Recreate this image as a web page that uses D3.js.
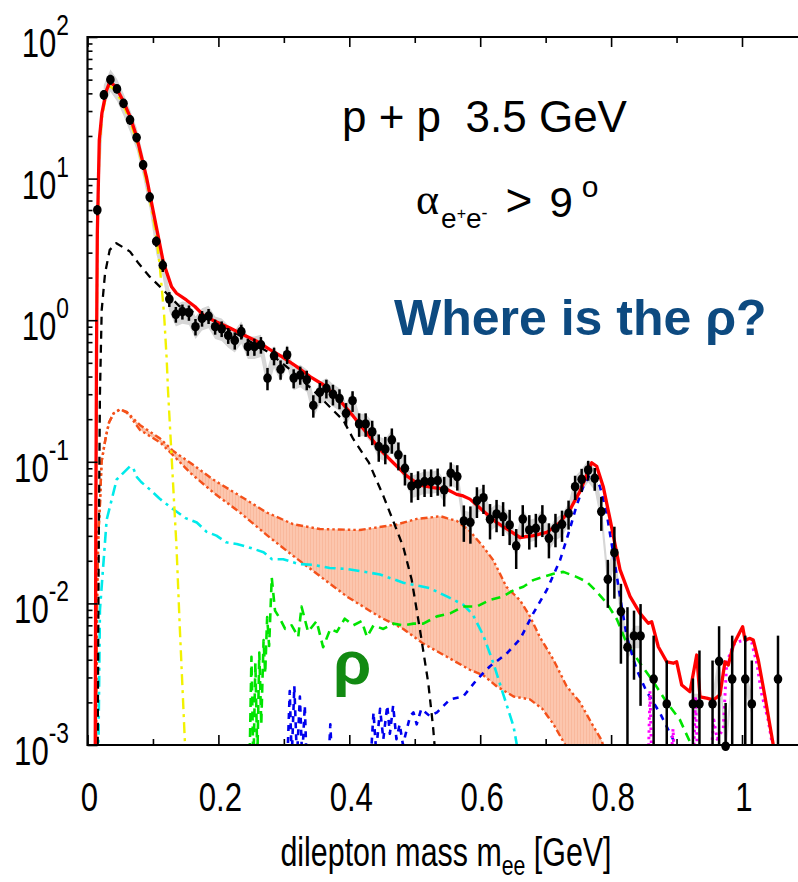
<!DOCTYPE html>
<html>
<head>
<meta charset="utf-8">
<script src="https://cdn.jsdelivr.net/npm/d3@7"></script>
<style>
  body { margin: 0; background: #fff; }
  svg { display: block; }
  text { font-family: "Liberation Sans", Arial, Helvetica, sans-serif; }
</style>
</head>
<body>
<svg id="chart" width="798" height="882"></svg>
<script>
// ---------------- measured e+e- yield ----------------
const massBins = [0.015,0.025,0.035,0.045,0.055,0.065,0.075,0.085,0.095,0.105,
  0.115,0.125,0.135,0.145,0.155,0.165,0.175,0.185,0.195,0.205,
  0.215,0.225,0.235,0.245,0.255,0.265,0.275,0.285,0.295,0.305,
  0.315,0.325,0.335,0.345,0.355,0.365,0.375,0.385,0.395,0.405,
  0.415,0.425,0.435,0.445,0.455,0.465,0.475,0.485,0.495,0.505,
  0.515,0.525,0.535,0.545,0.555,0.565,0.575,0.585,0.595,0.605,
  0.615,0.625,0.635,0.645,0.655,0.665,0.675,0.685,0.695,0.705,
  0.715,0.725,0.735,0.745,0.755,0.765,0.775,0.785,0.795,0.805,
  0.815,0.825,0.835,0.845,0.865,0.885,0.925,0.935,0.955,0.965,
  0.975,0.985,1.005,1.015,1.055];
const yields = [6.0,39,50,43,34,26,19.5,12.5,7.4,3.6,
  2.44,1.41,1.10,1.15,1.13,0.90,1.03,1.07,0.90,0.87,
  0.78,0.72,0.83,0.65,0.65,0.67,0.39,0.56,0.45,0.57,
  0.39,0.41,0.38,0.25,0.31,0.33,0.30,0.28,0.22,0.27,
  0.185,0.185,0.163,0.128,0.123,0.143,0.112,0.090,0.0675,0.0697,
  0.0724,0.0724,0.0736,0.0633,0.083,0.0786,0.0382,0.0374,0.0531,0.0558,
  0.0393,0.0428,0.0409,0.0358,0.0255,0.0394,0.033,0.0339,0.0394,0.0288,
  0.0339,0.0362,0.0432,0.0667,0.0752,0.0875,0.0764,0.0445,0.0148,0.0228,
  0.00875,0.0049,0.00589,0.00589,0.00292,0.00195,0.00195,0.00195,0.00195,0.0039,
  0.00098,0.00292,0.00292,0.00195,0.00292];
const yieldErr = [0.5,3,4,3,2.5,2,1.5,1.0,0.6,0.3,
  0.25,0.17,0.14,0.14,0.14,0.12,0.13,0.13,0.11,0.11,
  0.10,0.10,0.10,0.09,0.09,0.09,0.07,0.08,0.07,0.08,
  0.06,0.06,0.06,0.045,0.05,0.05,0.05,0.045,0.04,0.045,
  0.035,0.035,0.032,0.028,0.027,0.029,0.025,0.022,0.016,0.016,
  0.016,0.016,0.016,0.015,0.016,0.016,0.011,0.011,0.013,0.013,
  0.011,0.011,0.011,0.010,0.008,0.010,0.009,0.009,0.010,0.008,
  0.009,0.009,0.010,0.013,0.014,0.014,0.014,0.012,0.0055,0.012,
  0.005,0.0045,0.003,0.004,0.003,0.002,0.001,0.0027,0.002,0.003,
  0.001,0.003,0.003,0.002,0.003];
// relative systematic uncertainty shown as the grey band
const sysRel = 0.18;

// ---------------- model contributions: [mass GeV, yield] ----------------
const totalCurve = [[0.0118,0.0008],[0.0128,0.05],[0.0138,0.6],[0.015,4.1],[0.018,18.7],[0.022,29],
  [0.029,42],[0.034,48],[0.040,46],[0.045,43],[0.055,35],[0.065,27.4],[0.075,19.8],[0.090,10.3],
  [0.105,4.6],[0.116,2.55],[0.1285,1.72],[0.136,1.55],[0.151,1.39],[0.164,1.25],[0.1795,1.06],
  [0.1974,0.97],[0.2177,0.88],[0.238,0.79],[0.2585,0.71],[0.2788,0.62],[0.2992,0.545],[0.3196,0.47],
  [0.340,0.40],[0.3603,0.35],[0.383,0.28],[0.406,0.21],[0.4266,0.16],[0.4469,0.122],[0.4672,0.0985],
  [0.4877,0.0795],[0.508,0.0683],[0.5283,0.0657],[0.5488,0.0639],[0.564,0.0589],[0.574,0.0574],
  [0.5844,0.0545],[0.6047,0.045],[0.625,0.0373],[0.6455,0.0325],[0.6608,0.0292],[0.6811,0.0301],
  [0.7016,0.0317],[0.7219,0.0373],[0.7372,0.046],[0.7525,0.0618],[0.7627,0.081],[0.7704,0.0985],
  [0.778,0.093],[0.788,0.0667],[0.7983,0.0395],[0.8136,0.0173],[0.8289,0.0112],[0.8442,0.0085],
  [0.8568,0.00724],[0.862,0.00743],[0.8721,0.00494],[0.885,0.00387],[0.895,0.00378],[0.9002,0.00387],
  [0.9079,0.00265],[0.9205,0.00238],[0.9308,0.00432],[0.9358,0.00219],[0.946,0.00214],[0.9562,0.00208],
  [0.9664,0.00226],[0.974,0.00387],[0.979,0.00367],[0.9867,0.00508],[0.997,0.0063],[1.001,0.00685],
  [1.0046,0.00551],[1.0122,0.00566],[1.0173,0.00551],[1.0249,0.00398],[1.0351,0.00219],[1.0478,0.001],
  [1.05,0.0007]];
const pi0Dalitz = [[0.0118,0.0008],[0.0128,0.05],[0.0138,0.5],[0.015,3.5],[0.018,16],[0.022,27],
  [0.029,40],[0.034,45],[0.040,43],[0.045,40],[0.055,33],[0.065,25.5],[0.075,18.5],[0.090,9.6],
  [0.105,4.0],[0.111,2.26],[0.117,1.1],[0.121,0.53],[0.123,0.32],[0.1285,0.109],[0.136,0.025],
  [0.141,0.0068],[0.149,0.001],[0.151,0.0007]];
const etaDalitz = [[0.0155,0.0008],[0.017,0.02],[0.019,0.3],[0.0217,1.18],[0.0268,2.14],[0.034,3.14],
  [0.044,3.5],[0.065,3.05],[0.078,2.52],[0.095,2.03],[0.111,1.72],[0.140,1.26],[0.172,1.09],
  [0.182,1.06],[0.243,0.73],[0.275,0.60],[0.309,0.45],[0.345,0.32],[0.373,0.237],[0.391,0.196],
  [0.406,0.145],[0.430,0.0985],[0.452,0.0574],[0.4725,0.033],[0.4825,0.025],[0.4953,0.0147],
  [0.508,0.0065],[0.5207,0.00273],[0.528,0.00134],[0.532,0.0008]];
const deltaDalitz = [[0.0165,0.0008],[0.019,0.009],[0.0293,0.039],[0.0446,0.075],[0.065,0.093],
  [0.070,0.09],[0.0755,0.078],[0.082,0.072],[0.0955,0.0636],[0.110,0.055],[0.131,0.0462],[0.150,0.040],
  [0.167,0.0373],[0.182,0.032],[0.197,0.0301],[0.212,0.027],[0.228,0.0263],[0.245,0.025],[0.269,0.023],
  [0.282,0.0205],[0.299,0.0205],[0.322,0.019],[0.345,0.0187],[0.370,0.0178],[0.396,0.0175],
  [0.427,0.0166],[0.447,0.016],[0.4825,0.014],[0.523,0.0128],[0.549,0.0112],[0.574,0.0098],
  [0.589,0.0083],[0.605,0.0059],[0.620,0.0038],[0.635,0.0023],[0.651,0.00135],[0.656,0.001],[0.658,0.0008]];
const rhoUpper = [[0.0128,0.0008],[0.0145,0.01],[0.0165,0.03],[0.019,0.05],[0.0215,0.1],[0.028,0.15],
  [0.033,0.19],[0.040,0.22],[0.050,0.235],[0.060,0.225],[0.080,0.182],[0.111,0.146],[0.131,0.119],
  [0.157,0.0985],[0.192,0.0749],[0.233,0.0574],[0.274,0.0438],[0.314,0.0363],[0.355,0.0335],
  [0.416,0.033],[0.4725,0.0361],[0.503,0.0395],[0.525,0.0405],[0.539,0.0413],[0.549,0.040],
  [0.564,0.0383],[0.584,0.0325],[0.605,0.025],[0.620,0.0202],[0.640,0.0131],[0.661,0.0105],
  [0.676,0.0081],[0.691,0.0058],[0.712,0.004],[0.732,0.0026],[0.7525,0.002],[0.770,0.00143],
  [0.786,0.00107],[0.792,0.0008]];
const rhoLower = [[0.0128,0.0008],[0.0145,0.01],[0.0165,0.03],[0.019,0.05],[0.0215,0.1],[0.028,0.15],
  [0.033,0.19],[0.040,0.22],[0.050,0.235],[0.060,0.222],[0.065,0.21],[0.080,0.168],[0.111,0.137],
  [0.131,0.111],[0.157,0.0835],[0.193,0.0603],[0.233,0.0438],[0.275,0.0301],[0.314,0.0217],
  [0.355,0.0156],[0.396,0.0112],[0.447,0.008],[0.4825,0.0066],[0.513,0.0052],[0.549,0.0042],
  [0.584,0.0034],[0.605,0.0031],[0.625,0.0026],[0.651,0.0022],[0.676,0.0021],[0.695,0.0018],
  [0.712,0.0014],[0.730,0.001],[0.735,0.0008]];
const rhoNN = [[0.2475,0.0007],[0.2505,0.0042],[0.2535,0.0007],[0.2565,0.0038],[0.2595,0.0008],
  [0.2625,0.0045],[0.2655,0.0014],[0.269,0.0055],[0.2715,0.0032],[0.2745,0.008],[0.2775,0.005],
  [0.2815,0.0152],[0.2865,0.0089],[0.294,0.0078],[0.302,0.0066],[0.312,0.0070],[0.322,0.0058],
  [0.327,0.0095],[0.337,0.0063],[0.350,0.0075],[0.360,0.0049],[0.371,0.0066],[0.381,0.0063],
  [0.393,0.0078],[0.406,0.0070],[0.419,0.0075],[0.427,0.0058],[0.437,0.0070],[0.452,0.0066],
  [0.467,0.0072],[0.4825,0.0070],[0.498,0.0072],[0.513,0.0072],[0.534,0.0081],[0.554,0.0085],
  [0.574,0.0095],[0.595,0.0095],[0.615,0.0106],[0.635,0.0112],[0.651,0.0124],[0.666,0.0131],
  [0.681,0.0146],[0.696,0.0154],[0.712,0.0162],[0.727,0.0167],[0.747,0.0154],[0.763,0.0142],
  [0.778,0.0121],[0.793,0.0101],[0.809,0.0077],[0.824,0.0052],[0.844,0.0038],[0.8645,0.0028],
  [0.885,0.0020],[0.905,0.00151],[0.9205,0.00105],[0.925,0.0008]];
const omegaCurve = [[0.305,0.0007],[0.309,0.0024],[0.312,0.0008],[0.316,0.0026],[0.320,0.0008],
  [0.3245,0.0022],[0.328,0.0008],[0.332,0.0019],[0.335,0.0007],[0.368,0.0007],[0.371,0.0014],
  [0.374,0.0007],[0.432,0.0007],[0.437,0.0017],[0.441,0.0009],[0.447,0.0018],[0.452,0.0011],
  [0.458,0.0019],[0.462,0.0012],[0.467,0.0019],[0.472,0.0011],[0.477,0.0014],[0.482,0.0010],
  [0.488,0.0013],[0.493,0.0016],[0.498,0.0017],[0.503,0.0014],[0.510,0.0018],[0.523,0.0016],
  [0.534,0.0017],[0.554,0.0021],[0.574,0.0022],[0.595,0.0029],[0.615,0.0036],[0.640,0.0044],
  [0.661,0.0056],[0.681,0.0085],[0.7016,0.0124],[0.722,0.0202],[0.737,0.0335],[0.747,0.0486],
  [0.7575,0.0667],[0.768,0.082],[0.775,0.082],[0.783,0.0667],[0.793,0.0438],[0.803,0.023],
  [0.8136,0.0112],[0.824,0.0058],[0.839,0.0034],[0.854,0.0024],[0.875,0.00167],[0.895,0.00109],
  [0.900,0.0008]];
const phiCurve = [[0.857,0.0008],[0.8594,0.0024],[0.862,0.0008],[0.892,0.0008],[0.8946,0.0013],
  [0.897,0.0008],[0.926,0.0008],[0.929,0.0022],[0.932,0.0008],[0.952,0.0008],[0.957,0.0015],
  [0.962,0.0011],[0.9714,0.0013],[0.9766,0.0038],[0.9867,0.0051],[0.997,0.0054],[1.007,0.0055],
  [1.0148,0.0053],[1.0225,0.0038],[1.030,0.0023],[1.040,0.0015],[1.048,0.0009],[1.050,0.0007]];

// ---------------- axis ticks ----------------
const xMajorTicks = [0, 0.2, 0.4, 0.6, 0.8, 1.0];
const xMinorTicks = [0.1, 0.3, 0.5, 0.7, 0.9];
const xTickLabels = ["0", "0.2", "0.4", "0.6", "0.8", "1"];
const yMajorTicks = [1e-3, 1e-2, 1e-1, 1, 10, 100];
const yTickExponents = ["-3", "-2", "-1", "0", "1", "2"];

// ---------------- layout ----------------
const svg = d3.select("#chart");
const plotLeft = 87.5, plotTop = 37, plotBottom = 745, pxPerGeV = 654.5;
const x = d3.scaleLinear().domain([0, 1.1]).range([plotLeft, plotLeft + 1.1 * pxPerGeV]);
const y = d3.scaleLog().domain([1e-3, 1e2]).range([plotBottom, plotTop]);
const plotRight = x(1.1);

const defs = svg.append("defs");
defs.append("clipPath").attr("id", "plotClip")
  .append("rect").attr("x", plotLeft).attr("y", plotTop)
  .attr("width", plotRight - plotLeft).attr("height", plotBottom - plotTop);
const hatch = defs.append("pattern").attr("id", "rhoFill")
  .attr("patternUnits", "userSpaceOnUse").attr("width", 3).attr("height", 10);
hatch.append("rect").attr("width", 3).attr("height", 10).attr("fill", "#fcc6ae");
hatch.append("line").attr("x1", 1.5).attr("x2", 1.5).attr("y1", 0).attr("y2", 10)
  .attr("stroke", "#f9b99d").attr("stroke-width", 1);

const plot = svg.append("g").attr("clip-path", "url(#plotClip)");
const line = d3.line().x(d => x(d[0])).y(d => y(d[1]));

// grey systematic band around the data (contiguous bins only)
const bandPts = [];
massBins.forEach((m, i) => {
  if (i > 0 && m - massBins[i - 1] > 0.015) bandPts.push(null);
  bandPts.push({ m, lo: yields[i] * (1 - sysRel), hi: yields[i] * (1 + sysRel) });
});
plot.append("path")
  .attr("d", d3.area().defined(d => d !== null)
    .x(d => x(d.m)).y0(d => y(d.lo)).y1(d => y(d.hi))(bandPts))
  .attr("fill", "#d6d6d6");

// rho band (between the two rho estimates)
const rhoPoly = rhoUpper.concat(rhoLower.slice().reverse());
plot.append("path").attr("d", line(rhoPoly) + "Z").attr("fill", "url(#rhoFill)").attr("stroke", "none");

function drawCurve(data, color, width, dash) {
  plot.append("path").attr("d", line(data))
    .attr("fill", "none").attr("stroke", color).attr("stroke-width", width)
    .attr("stroke-dasharray", dash).attr("stroke-linejoin", "round");
}
drawCurve(rhoUpper, "#f4511a", 2.4, "7,3,2.5,3,2.5,3");
drawCurve(rhoLower, "#f4511a", 2.4, "7,3,2.5,3,2.5,3");
drawCurve(deltaDalitz, "#00eaea", 2.6, "11,5,3,5");
drawCurve(pi0Dalitz, "#f2f200", 2.4, "11,5,3,5");
drawCurve(etaDalitz, "#000", 2.3, "8,6");
drawCurve(rhoNN, "#00e400", 2.6, "9,6");
drawCurve(omegaCurve, "#0000ee", 2.6, "6,6");
drawCurve(phiCurve, "#ff00ff", 3, "2.5,4");
drawCurve(totalCurve, "#ff0000", 3.3, null);

// data points with statistical error bars
const pts = svg.append("g");
massBins.forEach((m, i) => {
  const v = yields[i], e = yieldErr[i];
  const yLo = v - e > 1e-3 ? y(v - e) : plotBottom;
  pts.append("line").attr("x1", x(m)).attr("x2", x(m))
    .attr("y1", y(v + e)).attr("y2", yLo)
    .attr("stroke", "#000").attr("stroke-width", 2.5);
  pts.append("ellipse").attr("cx", x(m)).attr("cy", y(v)).attr("rx", 4.3).attr("ry", 4.8).attr("fill", "#000");
});

// ---------------- axes ----------------
const axes = svg.append("g");
function styleAxis(g) {
  g.select(".domain").remove();
  g.selectAll(".tick line").attr("stroke", "#000").attr("stroke-width", 1.6);
  g.selectAll(".tick text").remove();
}
axes.append("g").attr("transform", `translate(0,${plotBottom})`)
  .call(d3.axisBottom(x).tickValues(xMajorTicks).tickSize(-10)).call(styleAxis);
axes.append("g").attr("transform", `translate(0,${plotBottom})`)
  .call(d3.axisBottom(x).tickValues(xMinorTicks).tickSize(-6)).call(styleAxis);
axes.append("g").attr("transform", `translate(0,${plotTop})`)
  .call(d3.axisTop(x).tickValues(xMajorTicks).tickSize(-10)).call(styleAxis);
axes.append("g").attr("transform", `translate(0,${plotTop})`)
  .call(d3.axisTop(x).tickValues(xMinorTicks).tickSize(-6)).call(styleAxis);
const yMinorTicks = [];
yMajorTicks.slice(0, -1).forEach(d => { for (let k = 2; k <= 9; k++) yMinorTicks.push(d * k); });
axes.append("g").attr("transform", `translate(${plotLeft},0)`)
  .call(d3.axisLeft(y).tickValues(yMajorTicks).tickSize(-10)).call(styleAxis);
axes.append("g").attr("transform", `translate(${plotLeft},0)`)
  .call(d3.axisLeft(y).tickValues(yMinorTicks).tickSize(-5)).call(styleAxis);

// frame
axes.append("path")
  .attr("d", `M${plotRight},${plotTop}H${plotLeft}V${plotBottom}H${plotRight}`)
  .attr("fill", "none").attr("stroke", "#000").attr("stroke-width", 2.2);

// tick labels (condensed)
yMajorTicks.forEach((v, i) => {
  const t = axes.append("g").attr("transform", `translate(69,${y(v) + 20}) scale(0.76,1)`)
    .append("text").attr("text-anchor", "end").attr("font-size", 41).attr("fill", "#000");
  t.append("tspan").text("10");
  t.append("tspan").attr("font-size", 30).attr("dy", -22).text(yTickExponents[i]);
});
xMajorTicks.forEach((v, i) => {
  axes.append("g").attr("transform", `translate(${x(v) + 2},811) scale(0.76,1)`)
    .append("text").attr("text-anchor", "middle").attr("font-size", 41).attr("fill", "#000")
    .text(xTickLabels[i]);
});
const xt = axes.append("g").attr("transform", "translate(446,866) scale(0.76,1)")
  .append("text").attr("text-anchor", "middle").attr("font-size", 40).attr("fill", "#000");
xt.append("tspan").text("dilepton mass m");
xt.append("tspan").attr("font-size", 28).attr("dy", 9).text("ee");
xt.append("tspan").attr("dy", -9).text(" [GeV]");

// ---------------- annotations ----------------
const ann = svg.append("g");
ann.append("text").attr("x", 342).attr("y", 132).attr("font-size", 44)
  .style("white-space", "pre").text("p + p  3.5 GeV");

// opening-angle cut: alpha with e+e- subscript
const cut = ann.append("text").attr("x", 416).attr("y", 214).attr("font-size", 44);
cut.append("tspan").style("font-family", "'Liberation Serif', 'Times New Roman', serif").text("α");
cut.append("tspan").attr("font-size", 28).attr("dx", 2).attr("dy", 14).text("e");
cut.append("tspan").attr("font-size", 16).attr("dy", -9).text("+");
cut.append("tspan").attr("font-size", 28).attr("dy", 9).text("e");
cut.append("tspan").attr("font-size", 18).attr("dy", -9).text("-");
cut.append("tspan").attr("font-size", 46).attr("dx", 18).attr("dy", -3).text(">");
cut.append("tspan").attr("font-size", 42).attr("dx", 17).attr("dy", 1).text("9");
cut.append("tspan").attr("font-size", 30).attr("dx", 9).attr("dy", -20).text("o");

ann.append("text").attr("x", 394).attr("y", 335).attr("font-size", 50).attr("font-weight", "bold")
  .attr("fill", "#0d4a80").text("Where is the ρ?");
ann.append("text").attr("x", 333).attr("y", 684).attr("font-size", 62).attr("font-weight", "bold")
  .attr("fill", "#128a12").text("ρ");
</script>
</body>
</html>
